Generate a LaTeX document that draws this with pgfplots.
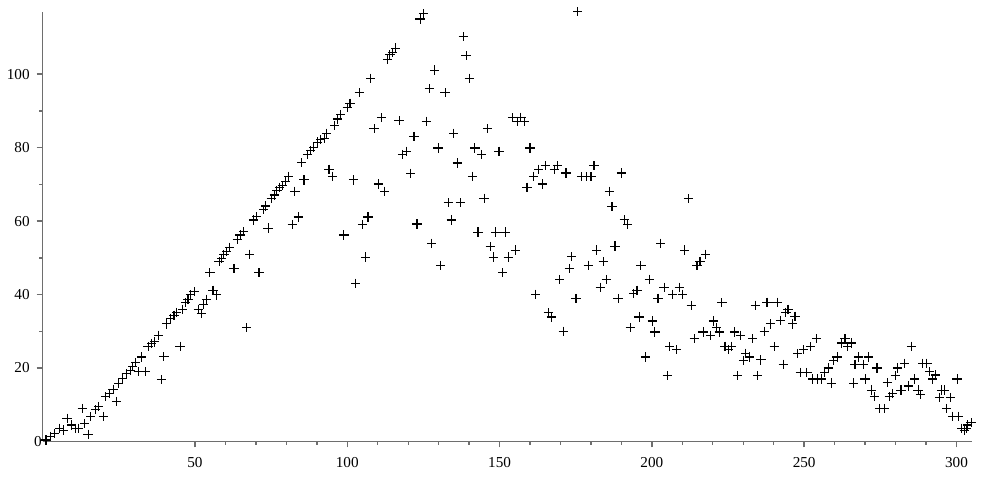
\documentclass[border=0pt]{standalone}
\usepackage{fontspec}
\setmainfont{Liberation Serif}
\usepackage{pgfplots}
\pgfplotsset{compat=1.18}
\definecolor{axisgray}{RGB}{110,110,110}

% points, one row per plotted cross
\pgfplotstableread{
x y
1.1 0.4
2.6 1.4
4.0 2.2
5.5 3.6
6.9 3.1
8.0 6.3
9.5 4.5
10.8 3.6
11.7 3.6
13.0 9.0
13.8 4.9
14.9 2.0
15.8 6.8
17.4 8.6
18.4 9.5
19.9 6.8
20.6 12.2
21.9 13.1
23.1 14.2
24.2 10.9
25.0 15.9
26.3 17.2
27.4 18.4
28.7 19.3
29.6 20.4
30.5 21.5
31.4 19.0
32.5 23.0
33.8 19.0
34.6 25.8
35.8 26.7
36.7 27.1
38.0 28.9
39.0 16.8
39.8 23.1
40.7 32.0
42.0 33.5
43.1 34.4
44.0 35.1
45.1 25.9
46.0 36.0
46.9 37.8
47.7 38.7
48.5 39.9
49.7 40.8
51.1 36.0
52.1 34.9
52.7 37.4
53.8 38.7
54.9 45.9
55.9 41.2
57.0 39.9
57.9 48.9
58.8 49.9
59.5 50.8
60.4 51.7
61.4 52.9
62.8 47.1
63.9 55.1
64.8 56.2
65.9 57.1
67.0 31.0
68.0 51.0
69.2 60.3
70.3 61.2
71.0 45.9
72.5 63.2
73.2 64.1
74.0 58.1
75.0 66.2
76.0 67.1
76.9 68.3
77.7 69.2
78.7 69.6
79.8 70.8
80.8 72.2
81.9 59.1
82.8 68.1
83.9 61.1
85.0 75.9
85.8 71.2
86.9 78.1
88.0 79.2
89.0 80.1
90.2 81.5
91.3 82.1
92.4 82.4
93.2 83.9
94.0 74.1
95.1 72.2
95.9 86.0
96.8 87.8
97.9 89.0
98.9 56.2
100.0 91.0
100.9 92.1
102.0 71.2
102.8 43.1
103.9 94.9
105.0 59.1
106.0 50.2
106.8 61.1
107.7 98.9
108.8 85.1
110.2 70.1
111.2 88.1
112.3 68.1
113.2 103.9
114.0 105.3
114.8 105.9
115.9 107.1
117.0 87.3
118.1 78.1
119.5 79.0
120.8 73.0
121.9 83.0
122.9 59.2
123.9 115.0
125.0 116.4
125.9 87.2
126.9 96.0
127.7 54.0
128.7 101.1
129.8 79.9
130.7 48.0
132.1 94.9
133.1 65.0
134.1 60.3
135.0 83.9
136.1 75.8
137.1 65.0
138.1 110.2
139.0 105.0
140.0 98.9
141.1 72.2
141.9 79.9
142.9 57.0
144.1 78.1
144.9 66.2
146.0 85.1
146.9 53.1
148.0 50.2
148.7 57.0
149.8 79.0
151.0 45.9
151.8 57.0
152.8 50.2
154.2 88.1
155.1 52.1
155.9 87.2
157.0 88.3
158.1 87.2
159.0 69.2
160.0 79.9
161.1 72.2
161.9 40.1
162.9 74.1
164.1 70.1
165.0 75.1
166.0 35.0
167.0 33.9
167.9 74.1
169.0 75.1
169.8 44.1
170.9 30.0
171.8 73.1
172.9 47.1
173.7 50.3
175.1 38.9
175.7 117.0
176.9 72.1
178.4 72.1
179.1 48.0
180.0 72.1
181.0 75.1
181.9 52.1
183.0 42.0
184.0 48.9
185.0 44.1
186.0 68.1
186.9 63.9
187.9 53.2
188.9 38.9
190.0 73.1
190.9 60.4
192.1 59.1
192.9 31.0
194.0 40.3
195.1 41.2
195.8 33.9
196.4 47.9
198.0 23.0
199.1 44.2
200.1 32.8
201.0 29.8
202.0 39.0
202.9 54.0
204.0 42.0
205.0 17.9
205.9 25.8
206.9 40.1
208.1 25.0
209.0 42.0
210.1 40.1
210.8 52.1
212.0 66.1
212.9 37.1
213.9 28.0
214.8 48.0
215.8 49.1
216.8 29.8
217.7 51.0
219.2 28.9
220.2 32.8
221.3 31.0
222.1 29.8
223.0 37.8
224.0 25.9
225.1 25.0
226.0 25.9
227.1 29.8
228.2 17.9
229.0 28.9
230.1 22.0
230.8 24.0
232.0 23.0
233.1 28.0
233.9 37.1
234.7 17.9
235.8 22.2
236.9 30.0
237.8 37.9
238.9 32.0
240.2 25.8
241.1 37.9
242.1 33.0
243.1 21.0
244.0 35.1
244.7 36.0
246.2 32.0
247.0 34.1
247.9 23.9
248.7 18.8
249.8 25.0
250.9 18.8
252.1 25.8
252.8 17.0
254.1 28.0
254.4 17.0
255.8 17.0
256.8 18.8
257.9 20.0
258.9 15.9
259.7 22.0
260.8 23.0
262.3 26.8
263.4 28.0
264.3 25.8
265.4 26.8
266.3 15.9
266.7 21.0
267.8 23.0
269.5 21.0
270.0 17.0
271.0 23.0
272.2 14.0
273.1 12.2
273.9 20.0
274.7 9.0
276.3 9.0
277.3 16.0
277.9 12.2
279.1 13.1
279.9 17.9
280.6 20.0
281.8 14.0
282.9 21.3
284.2 15.1
285.2 25.9
286.3 17.0
287.4 14.0
288.2 12.8
288.9 21.3
290.3 21.3
291.1 19.0
292.2 17.0
293.1 18.1
294.4 12.0
295.2 14.0
296.2 14.0
296.8 9.0
298.0 12.0
298.7 6.9
300.2 17.0
300.6 6.9
301.7 3.6
302.6 2.9
303.2 3.6
303.6 4.5
304.8 5.1
}\pts

\begin{document}
\begin{tikzpicture}
\begin{axis}[
    scale only axis,
    width=464.5pt,
    height=214.9pt,
    xmin=0, xmax=305,
    ymin=0, ymax=117,
    axis lines*=left,
    axis line style={axisgray, line width=0.7pt},
    xtick={50,100,150,200,250,300},
    ytick={20,40,60,80,100},
    extra y ticks={0},
    extra y tick style={major tick length=0pt, tick label style={xshift=3pt}},
    minor x tick num=4,
    minor y tick num=1,
    tick align=outside,
    major tick length=3pt,
    minor tick length=1.7pt,
    tick style={axisgray, line width=0.7pt},
    tick label style={font=\fontsize{7.6}{9}\selectfont, black},
    /pgf/number format/assume math mode=true,
    xticklabel style={yshift=-1.5pt},
    clip=false,
]
\addplot[only marks, mark=+, mark size=2.3pt, black, mark options={line width=0.55pt}] table {\pts};
\end{axis}
\pgfresetboundingbox
\path ([shift={(-21.35pt,-24.25pt)}]current axis.south west) rectangle ([shift={(5.15pt,5.85pt)}]current axis.north east);
\end{tikzpicture}
\end{document}
